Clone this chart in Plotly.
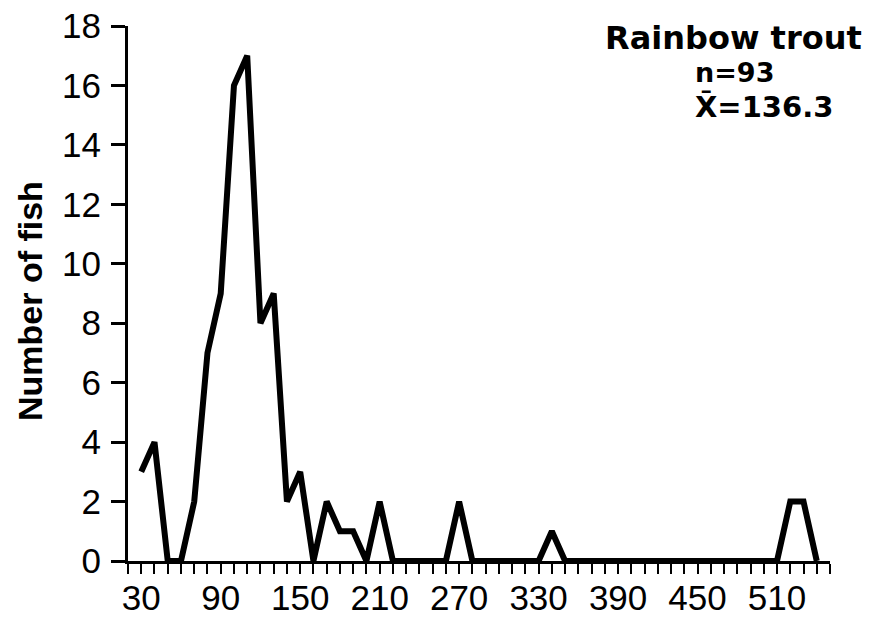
import plotly.graph_objects as go

# ---- data ----
length_mm = [30, 40, 50, 60, 70, 80, 90, 100, 110, 120, 130, 140, 150, 160, 170,
             180, 190, 200, 210, 220, 230, 240, 250, 260, 270, 280, 290, 300, 310,
             320, 330, 340, 350, 360, 370, 380, 390, 400, 410, 420, 430, 440, 450,
             460, 470, 480, 490, 500, 510, 520, 530, 540]
n_fish = [3, 4, 0, 0, 2, 7, 9, 16, 17, 8, 9, 2, 3, 0, 2,
          1, 1, 0, 2, 0, 0, 0, 0, 0, 2, 0, 0, 0, 0,
          0, 0, 1, 0, 0, 0, 0, 0, 0, 0, 0, 0, 0, 0,
          0, 0, 0, 0, 0, 0, 2, 2, 0]

x_minor_ticks = list(range(20, 551, 10))
x_tick_labels = ["30", "90", "150", "210", "270", "330", "390", "450", "510"]
y_tick_values = [0, 2, 4, 6, 8, 10, 12, 14, 16, 18]

species = "Rainbow trout"
n_text = "n=93"
mean_text = "X\u0304=136.3"
y_title = "Number of fish"

label_map = {int(t): t for t in x_tick_labels}
x_ticktext = [label_map.get(v, "") for v in x_minor_ticks]

tick_font = dict(family="Liberation Sans Narrow, Liberation Sans, Arial, sans-serif",
                 size=35, color="black")

W, H = 873, 624
ML, MT, MR, MB = 128, 26, 43, 63
PW = W - ML - MR
PH = H - MT - MB


def px_to_paper(xp, yp):
    """page pixel -> paper coords"""
    return (xp - ML) / PW, 1 - (yp - MT) / PH


fig = go.Figure()
fig.add_trace(go.Scatter(
    x=length_mm, y=n_fish, mode="lines",
    line=dict(color="black", width=6),
    cliponaxis=False, showlegend=False, hoverinfo="skip",
))

ax_t, ay_t = px_to_paper(30, 301)
ax_s, ay_s = px_to_paper(864, 38)
ax_n, ay_n = px_to_paper(693, 73)
ax_m, ay_m = px_to_paper(693, 107)

fig.update_layout(
    width=W, height=H,
    margin=dict(l=ML, r=MR, t=MT, b=MB, autoexpand=False),
    paper_bgcolor="white", plot_bgcolor="white",
    xaxis=dict(
        range=[20, 550], showgrid=False, zeroline=False, automargin=False,
        showline=True, linecolor="black", linewidth=3,
        ticks="outside", ticklen=10, tickwidth=2, tickcolor="black",
        tickmode="array", tickvals=x_minor_ticks, ticktext=x_ticktext,
        tickfont=tick_font, tickangle=0, ticklabeloverflow="allow",
        ticklabelstandoff=-6,
    ),
    yaxis=dict(
        range=[0, 18], showgrid=False, zeroline=False, automargin=False,
        showline=True, linecolor="black", linewidth=3,
        ticks="outside", ticklen=14, tickwidth=3, tickcolor="black",
        tickmode="array", tickvals=y_tick_values,
        tickfont=tick_font, ticklabelstandoff=3, ticklabeloverflow="allow",
    ),
    annotations=[
        dict(text=f"<b>{y_title}</b>", xref="paper", yref="paper",
             x=ax_t, y=ay_t, xanchor="center", yanchor="middle",
             textangle=-90, showarrow=False,
             font=dict(family="Liberation Sans, Arial, sans-serif", size=34, color="black")),
        dict(text=f"<b>{species}</b>", xref="paper", yref="paper",
             x=ax_s, y=ay_s, xanchor="right", yanchor="middle",
             showarrow=False,
             font=dict(family="DejaVu Sans, sans-serif", size=32, color="black")),
        dict(text=f"<b>{n_text}</b>", xref="paper", yref="paper",
             x=ax_n, y=ay_n, xanchor="left", yanchor="middle",
             showarrow=False,
             font=dict(family="DejaVu Sans, sans-serif", size=27, color="black")),
        dict(text=f"<b>{mean_text}</b>", xref="paper", yref="paper",
             x=ax_m, y=ay_m, xanchor="left", yanchor="middle",
             showarrow=False,
             font=dict(family="DejaVu Sans, sans-serif", size=29, color="black")),
    ],
)

fig.write_html("out.html", config={"displayModeBar": False},
               post_script="document.body.style.margin='0px';")
